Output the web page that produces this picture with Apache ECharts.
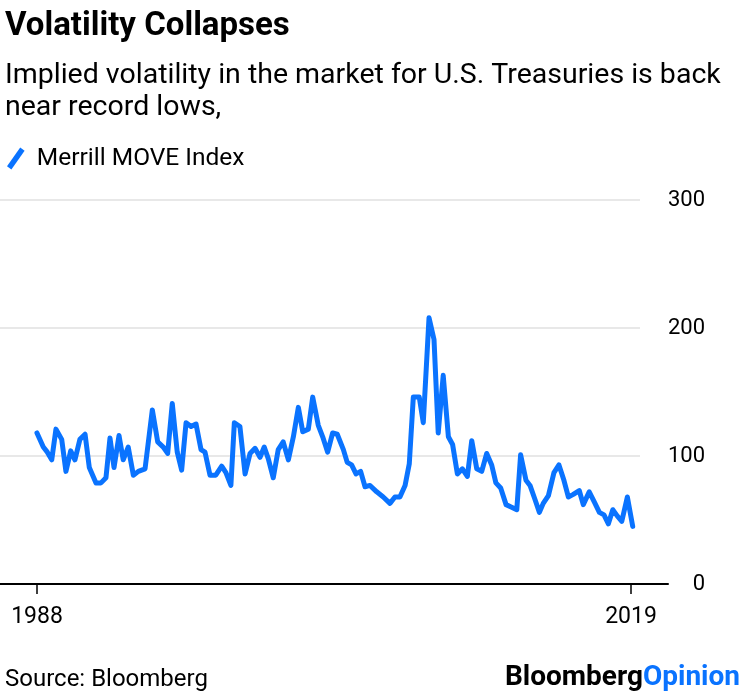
<!DOCTYPE html>
<html>
<head>
<meta charset="utf-8">
<script src="https://cdn.jsdelivr.net/npm/echarts@6/dist/echarts.min.js"></script>
<style>
html,body{margin:0;padding:0;background:#fff;}
#chart{width:750px;height:692px;}
</style>
</head>
<body>
<div id="chart"></div>
<script>
// Merrill MOVE Index (approximate), time in decimal years
const years = [
  1988.00,1988.33,1988.54,1988.77,1988.99,1989.29,1989.51,1989.76,1989.98,1990.24,
  1990.51,1990.73,1991.08,1991.34,1991.60,1991.81,1992.02,1992.28,1992.50,1992.76,
  1993.03,1993.29,1993.64,1994.02,1994.30,1994.59,1994.82,1995.06,1995.32,1995.55,
  1995.78,1996.04,1996.30,1996.56,1996.77,1997.03,1997.33,1997.64,1997.86,1998.12,
  1998.30,1998.59,1998.86,1999.12,1999.38,1999.64,1999.86,2000.07,2000.33,2000.59,
  2000.85,2001.12,2001.38,2001.64,2001.87,2002.16,2002.39,2002.68,2002.91,2003.17,
  2003.43,2003.67,2003.99,2004.19,2004.42,2004.65,2004.89,2005.12,2005.38,2005.73,
  2006.07,2006.42,2006.68,2006.94,2007.21,2007.43,2007.64,2007.95,2008.16,2008.46,
  2008.72,2008.94,2009.20,2009.47,2009.69,2009.94,2010.20,2010.46,2010.69,2010.95,
  2011.21,2011.47,2011.73,2011.95,2012.20,2012.48,2012.77,2013.04,2013.24,2013.52,
  2013.73,2013.99,2014.22,2014.42,2014.69,2014.98,2015.24,2015.50,2015.73,2015.99,
  2016.30,2016.51,2016.82,2017.09,2017.35,2017.59,2017.82,2018.05,2018.29,2018.52,
  2018.81,2019.09
];
const moveValues = [
  118,107,103,97,121,113,88,104,97,113,
  117,91,79,79,83,114,91,116,97,107,
  85,88,90,136,111,107,102,141,103,89,
  126,123,125,105,103,85,85,92,87,77,
  126,123,86,102,106,99,107,98,83,105,
  111,97,115,138,119,121,146,124,115,103,
  118,117,105,95,93,86,88,76,77,72,
  68,63,68,68,77,94,146,146,126,208,
  191,118,163,115,109,86,90,84,112,90,
  88,102,93,79,75,62,60,58,101,81,
  77,66,56,63,69,87,93,81,68,70,
  73,62,72,64,56,54,47,58,53,49,
  68,45
];
const xTickYears = [1988, 2019];
const yTicks = [0, 100, 200, 300];

const seriesName = 'Merrill MOVE Index';
const blue = '#0a73ff';
const font = 'Roboto, "Liberation Sans", Arial, sans-serif';

const chart = echarts.init(document.getElementById('chart'), null, {renderer: 'canvas'});

const xMin = 1986.07, xMaxGrid0 = 2019.47, xMaxGrid1 = 2020.93;

const option = {
  backgroundColor: '#fff',
  animation: false,
  textStyle: {fontFamily: font},
  title: [
    {
      text: 'Volatility Collapses',
      subtext: 'Implied volatility in the market for U.S. Treasuries is back\nnear record lows,',
      left: 0, top: 5, itemGap: 16,
      textStyle: {fontFamily: font, fontSize: 33, lineHeight: 34, fontWeight: 'bold', color: '#000'},
      subtextStyle: {fontFamily: font, fontSize: 28.5, lineHeight: 32, color: '#000'}
    },
    {
      text: 'Source: Bloomberg',
      left: 0, top: 663,
      textStyle: {fontFamily: font, fontSize: 24, fontWeight: 'normal', color: '#000'}
    },
    {
      text: '{a|Bloomberg}{b|Opinion}',
      right: 5, top: 659,
      textStyle: {
        rich: {
          a: {fontFamily: font, fontSize: 28, fontWeight: 'bold', color: '#000'},
          b: {fontFamily: font, fontSize: 28, fontWeight: 'bold', color: blue}
        }
      }
    }
  ],
  legend: {
    left: 2, top: 141,
    itemWidth: 20, itemHeight: 22,
    icon: 'path://M0,17 L12,0 L16,3 L4,20 Z',
    data: [seriesName],
    textStyle: {fontFamily: font, fontSize: 24.5, color: '#000', padding: [0, 0, 0, 6]}
  },
  grid: [
    {left: 0, top: 200, width: 640, height: 384},
    {left: 0, top: 200, width: 668, height: 384}
  ],
  xAxis: [
    {
      type: 'value', gridIndex: 0, min: xMin, max: xMaxGrid0,
      axisLine: {show: false}, axisTick: {show: false}, axisLabel: {show: false}, splitLine: {show: false}
    },
    {
      type: 'value', gridIndex: 1, min: xMin, max: xMaxGrid1,
      axisLine: {show: true, onZero: false, lineStyle: {color: '#000', width: 2}},
      axisTick: {show: true, length: 10, customValues: xTickYears, lineStyle: {color: '#000', width: 1.5}},
      axisLabel: {show: true, customValues: xTickYears, margin: 22, fontSize: 23, color: '#000', fontFamily: font,
                  formatter: v => String(Math.round(v))},
      splitLine: {show: false}
    }
  ],
  yAxis: [
    {
      type: 'value', gridIndex: 0, position: 'right', min: 0, max: 300, interval: 100,
      axisLine: {show: false}, axisTick: {show: false},
      axisLabel: {show: true, align: 'right', margin: 65, fontSize: 22, color: '#000', fontFamily: font,
                  customValues: yTicks, formatter: v => String(v)},
      splitLine: {show: true, lineStyle: {color: '#e8e8e8', width: 2}}
    },
    {
      type: 'value', gridIndex: 1, min: 0, max: 300, show: false
    }
  ],
  series: [
    {
      name: seriesName,
      type: 'line',
      xAxisIndex: 0, yAxisIndex: 0,
      data: years.map((y, i) => [y, moveValues[i]]),
      showSymbol: false,
      symbol: 'none',
      color: blue,
      lineStyle: {color: blue, width: 5, join: 'round', cap: 'round'}
    }
  ]
};
chart.setOption(option);
</script>
</body>
</html>
